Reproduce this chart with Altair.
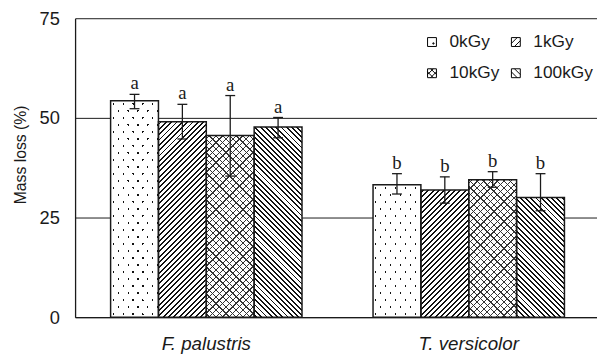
import altair as alt
import pandas as pd

# ---------------- data ----------------
groups = ["F. palustris", "T. versicolor"]
doses = ["0kGy", "1kGy", "10kGy", "100kGy"]
mean_fp = [54.3, 49.0, 45.6, 47.7]
mean_tv = [33.2, 31.9, 34.5, 30.0]
upper_fp = [55.9, 53.4, 55.6, 50.1]
upper_tv = [36.0, 35.2, 36.5, 36.0]
lower_fp = [52.3, 44.7, 35.4, 45.0]
lower_tv = [30.9, 28.6, 32.6, 26.7]
letters_fp = ["a", "a", "a", "a"]
letters_tv = ["b", "b", "b", "b"]
y_ticks = [0, 25, 50, 75]

rows = []
for g, ms, us, ls, lt in [(groups[0], mean_fp, upper_fp, lower_fp, letters_fp),
                          (groups[1], mean_tv, upper_tv, lower_tv, letters_tv)]:
    for d, m, u, l, t in zip(doses, ms, us, ls, lt):
        rows.append(dict(group=g, dose=d, mean=m, upper=u, lower=l, letter=t))
df = pd.DataFrame(rows)

# ---------------- layout ----------------
PLOT_W = 527
PLOT_H = 303
Y_MAX = 75
X_RANGE = 532
PAD_OUTER = 36 / 266
PAD_INNER = 72 / 266
step = X_RANGE / (2 - PAD_INNER + 2 * PAD_OUTER)
BAR_W = step * (1 - PAD_INNER) / len(doses)
PX_PER_UNIT = PLOT_H / Y_MAX

FONT = "Liberation Sans"
INK = "#1a1a1a"


# ---------------- hatch patterns built as striped gradients ----------------
def family(w, h, a, b, flip, width_c, bg, fg, phase=0.5):
    total = a * w + b * h
    k = total / ((a * w) ** 2 + (b * h) ** 2)
    x2, y2 = k * a * w, k * b * h
    if flip:
        x1, y1, x2, y2 = 0, 1, x2, 1 - y2
    else:
        x1, y1 = 0, 0
    stops = [(0.0, bg)]
    n = int(total) + 2
    for i in range(-1, n):
        c0 = (i + phase - width_c / 2) / total
        c1 = (i + phase + width_c / 2) / total
        if c1 <= 0 or c0 >= 1:
            continue
        c0 = max(c0, 0.0)
        c1 = min(c1, 1.0)
        stops += [(c0, bg), (c0, fg), (c1, fg), (c1, bg)]
    stops.append((1.0, bg))
    return alt.LinearGradient(
        gradient="linear", x1=x1, y1=y1, x2=round(x2, 6), y2=round(y2, 6),
        stops=[alt.GradientStop(offset=round(o, 6), color=c) for o, c in stops])


CLEAR = "rgba(255,255,255,0)"


def patterns(dose, w, h):
    if dose == "0kGy":
        a, b = 1 / 10.0, 1 / 14.2
        return [family(w, h, a, b, False, 0.19, "white", "#111"),
                family(w, h, a, b, True, 0.19, "white", CLEAR)]
    if dose == "1kGy":
        p = 5.4
        return [family(w, h, 1 / p, 1 / p, False, 1.9 / p, "white", "#111")]
    if dose == "10kGy":
        p = 6.8
        return [family(w, h, 1 / p, 1 / p, False, 1.3 / p, "white", "#333"),
                family(w, h, 1 / p, 1 / p, True, 1.3 / p, CLEAR, "#333")]
    p = 5.3
    return [family(w, h, 1 / p, 1 / p, True, 1.9 / p, "white", "#111")]


# ---------------- encodings ----------------
x_enc = alt.X("group:N", sort=groups,
              scale=alt.Scale(domain=groups, range=[0, X_RANGE],
                              paddingInner=PAD_INNER, paddingOuter=PAD_OUTER),
              axis=alt.Axis(title=None, ticks=False, domainColor=INK, domainWidth=1.4,
                            labelFont=FONT, labelFontSize=19, labelFontStyle="italic",
                            labelColor=INK, labelAngle=0, labelBaseline="alphabetic",
                            labelPadding=33, grid=False))
xo_enc = alt.XOffset("dose:N", sort=doses,
                     scale=alt.Scale(domain=doses, paddingInner=0, paddingOuter=0))
y_axis = alt.Axis(values=y_ticks, grid=True, gridColor=INK, gridOpacity=1, gridWidth=1,
                  domainColor=INK, domainWidth=1.3, ticks=False, labelPadding=16,
                  labelFont=FONT, labelFontSize=18.5, labelColor=INK,
                  title="Mass loss (%)", titleFont=FONT, titleFontSize=16,
                  titleFontWeight="normal", titleColor=INK, titleAngle=270,
                  titleX=-55, titleY=138, titleAlign="center", titleBaseline="middle")
y_scale = alt.Scale(domain=[0, Y_MAX], nice=False, zero=True)


def y_of(field):
    return alt.Y(f"{field}:Q", scale=y_scale, axis=y_axis)


base = alt.Chart(df)

layers = []
for _, r in df.iterrows():
    h = r["mean"] * PX_PER_UNIT
    for grad in patterns(r["dose"], BAR_W, h):
        layers.append(
            base.transform_filter((alt.datum.group == r["group"]) & (alt.datum.dose == r["dose"]))
            .mark_bar(fill=grad, strokeWidth=0)
            .encode(x=x_enc, xOffset=xo_enc, y=y_of("mean")))

outline = base.mark_bar(fillOpacity=0, stroke=INK, strokeWidth=1.5).encode(
    x=x_enc, xOffset=xo_enc, y=y_of("mean"))

err = base.mark_rule(color=INK, strokeWidth=1.3).encode(
    x=x_enc, xOffset=xo_enc, y=y_of("lower"), y2="upper:Q")
cap_top = base.mark_point(shape="M-1,0L1,0", size=100, filled=False, color=INK,
                          strokeWidth=1.3, opacity=1).encode(
    x=x_enc, xOffset=xo_enc, y=y_of("upper"))
cap_bot = base.mark_point(shape="M-1,0L1,0", size=100, filled=False, color=INK,
                          strokeWidth=1.3, opacity=1).encode(
    x=x_enc, xOffset=xo_enc, y=y_of("lower"))
letters = base.mark_text(font="Liberation Serif", fontSize=19, baseline="alphabetic",
                         dy=-5, color=INK).encode(
    x=x_enc, xOffset=xo_enc, y=y_of("upper"), text="letter:N")

sq = "M-1,-1H1V1H-1Z"
sym_paths = [
    sq + " M0.2,0.2H0.45V0.45H0.2Z",
    sq + " M-1,0.3L0.3,-1 M-0.3,1L1,-0.3",
    sq + " M-1,0.3L0.3,-1 M-0.3,1L1,-0.3 M-1,-0.3L0.3,1 M-0.3,-1L1,0.3",
    sq + " M-1,-0.3L0.3,1 M-0.3,-1L1,0.3",
]
legend_layer = base.mark_point(filled=False, color="black", opacity=0).encode(
    x=x_enc, xOffset=xo_enc, y=y_of("mean"),
    shape=alt.Shape("dose:N", sort=doses,
                    scale=alt.Scale(domain=doses, range=sym_paths),
                    legend=alt.Legend(title=None, orient="none", legendX=353, legendY=15,
                                      direction="horizontal", columns=2,
                                      columnPadding=7, rowPadding=13,
                                      symbolSize=81, symbolStrokeWidth=1,
                                      symbolStrokeColor="black", symbolFillColor="white",
                                      symbolOpacity=1, labelOffset=9,
                                      labelFont=FONT, labelFontSize=17.5,
                                      labelColor=INK)))

chart = alt.layer(*layers, outline, err, cap_top, cap_bot, letters, legend_layer).properties(
    width=PLOT_W, height=PLOT_H,
    autosize=alt.AutoSizeParams(type="none"),
    padding={"left": 68, "top": 8, "right": 2, "bottom": 38},
    background="white",
).configure_view(stroke=None)

chart.save("out.html", embed_options={"renderer": "svg", "actions": False})
